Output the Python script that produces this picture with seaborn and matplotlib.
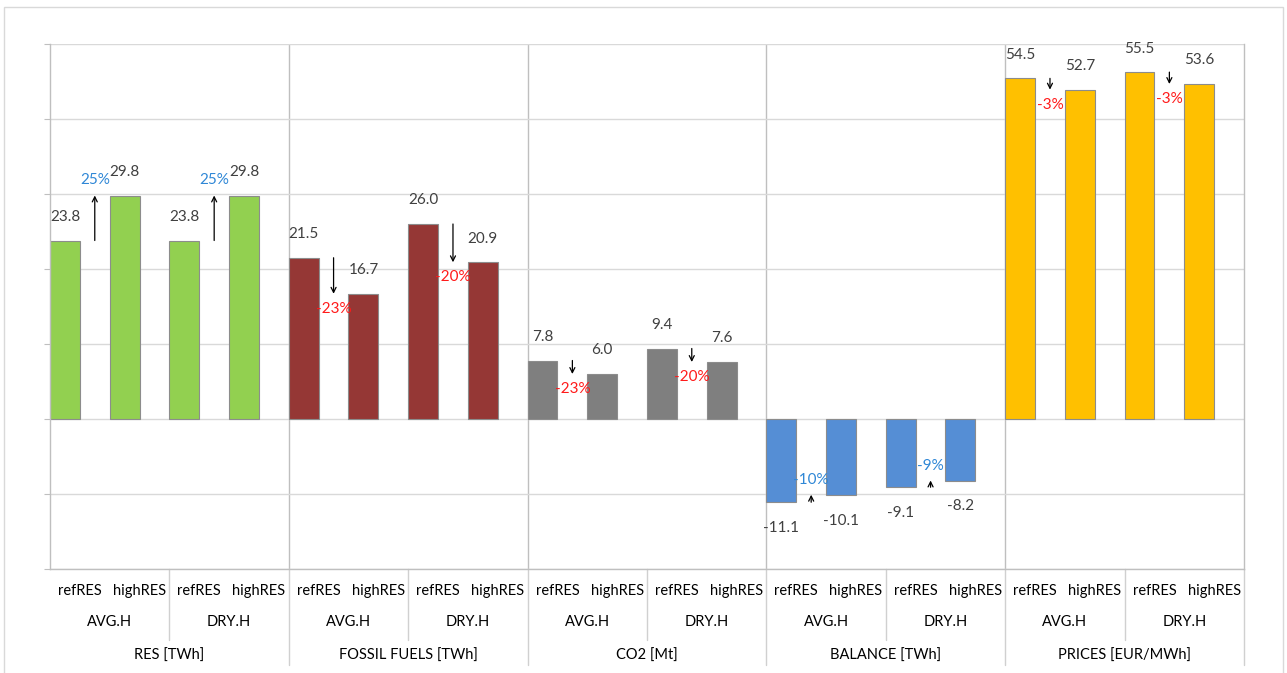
import numpy as np
import pandas as pd
import matplotlib
matplotlib.use('Agg')
import matplotlib.pyplot as plt
from matplotlib.patches import Rectangle
import seaborn as sns

# --- data ---
groups = ["RES [TWh]", "FOSSIL FUELS [TWh]", "CO2 [Mt]", "BALANCE [TWh]", "PRICES [EUR/MWh]"]
hydro = ["AVG.H", "DRY.H"]
scenarios = ["refRES", "highRES"]

res = [23.8, 29.8, 23.8, 29.8]
fossil = [21.5, 16.7, 26.0, 20.9]
co2 = [7.8, 6.0, 9.4, 7.6]
balance = [-11.1, -10.1, -9.1, -8.2]
prices = [54.5, 52.7, 55.5, 53.6]

changes = ["25%", "25%", "-23%", "-20%", "-23%", "-20%", "-10%", "-9%", "-3%", "-3%"]

colors = {
    "RES [TWh]": "#92D050",
    "FOSSIL FUELS [TWh]": "#953735",
    "CO2 [Mt]": "#7F7F7F",
    "BALANCE [TWh]": "#558ED5",
    "PRICES [EUR/MWh]": "#FFC000",
}
change_colors = ["#2F87D6", "#2F87D6", "#FF1A1A", "#FF1A1A", "#FF1A1A",
                 "#FF1A1A", "#2F87D6", "#2F87D6", "#FF1A1A", "#FF1A1A"]

series = [res, fossil, co2, balance, prices]
rows = []
for g, vals in zip(groups, series):
    for k, v in enumerate(vals):
        rows.append({"metric": g, "hydro": hydro[k // 2], "scen": scenarios[k % 2], "value": v})
df = pd.DataFrame(rows)
df["pos"] = np.arange(len(df))

sns.set_style("white")
plt.rcParams["font.family"] = ["Lato", "DejaVu Sans"]
TXT = "#404040"
FS = 11

W, H = 1287, 673
fig, ax = plt.subplots(figsize=(W / 100, H / 100), dpi=100)
fig.subplots_adjust(left=50 / W, right=1244 / W, top=1 - 44 / H, bottom=1 - 569 / H)

main = df[df["metric"] != "PRICES [EUR/MWh]"]
price = df[df["metric"] == "PRICES [EUR/MWh]"]

sns.barplot(data=main, x="pos", y="value", hue="metric", palette=colors,
            native_scale=True, width=0.5, dodge=False, errorbar=None, saturation=1,
            edgecolor="#8C8C8C", linewidth=0.8, legend=False, ax=ax)
ax2 = ax.twinx()
sns.barplot(data=price, x="pos", y="value", hue="metric", palette=colors,
            native_scale=True, width=0.5, dodge=False, errorbar=None, saturation=1,
            edgecolor="#8C8C8C", linewidth=0.8, legend=False, ax=ax2)

ax.set_xlim(-0.25, len(df) - 0.25)
ax.set_ylim(-20, 50)
ax2.set_ylim(-24, 60)

ax.set_yticks(np.arange(-20, 51, 10))
ax.set_xticks([])
ax.yaxis.grid(True, color="#D9D9D9", linewidth=1)
ax.set_axisbelow(True)
ax.tick_params(axis="y", length=4, color="#BFBFBF", labelleft=False, left=True)
ax.set_xlabel("")
ax.set_ylabel("")
ax.spines["top"].set_visible(False)
for s in ["left", "bottom", "right"]:
    ax.spines[s].set_color("#BFBFBF")
    ax.spines[s].set_linewidth(1)
for s in ax2.spines.values():
    s.set_visible(False)
ax2.set_yticks([])
ax2.set_ylabel("")
ax2.set_xlabel("")

# value labels and change arrows
px = 0.72  # points per pixel
for gi, g in enumerate(groups):
    sub = df[df["metric"] == g]
    target = ax2 if g == "PRICES [EUR/MWh]" else ax
    vals = sub["value"].to_numpy()
    pos = sub["pos"].to_numpy()
    for p, v in zip(pos, vals):
        off = 23.5 * px if v >= 0 else -26 * px
        target.annotate(f"{v:.1f}", xy=(p, v), xytext=(0, off), textcoords="offset points",
                        ha="center", va="center", fontsize=FS, color=TXT)
    for j in range(2):
        ref, high = vals[2 * j], vals[2 * j + 1]
        xa = pos[2 * j] + 0.5
        target.annotate("", xy=(xa, high), xytext=(xa, ref),
                        arrowprops=dict(arrowstyle="->", color="black", lw=0.9,
                                        shrinkA=0, shrinkB=0, mutation_scale=9))
        d = 1 if high > ref else -1
        k = gi * 2 + j
        target.annotate(changes[k], xy=(xa, high), xytext=(0, d * 15 * px),
                        textcoords="offset points", ha="center", va="center",
                        fontsize=FS, color=change_colors[k])

# vertical separators of the outer categories
for gi in range(1, len(groups)):
    ax.axvline(gi * 4 - 0.25, color="#BFBFBF", linewidth=1, zorder=0.5)

# multi-level category labels below the axis
axh = 569 - 44
def yf(ypix):
    return (569 - ypix) / axh

tr = ax.get_xaxis_transform()
for p, s in zip(df["pos"], df["scen"]):
    ax.text(p + 0.25, yf(591), s, transform=tr, ha="center", va="center", fontsize=FS - 0.5, color="black")
for j in range(len(df) // 2):
    ax.text(2 * j + 0.75, yf(622), hydro[j % 2], transform=tr, ha="center", va="center",
            fontsize=FS - 0.5, color="black")
    if j % 2 == 1:
        continue
    ax.plot([2 * j + 1.75] * 2, [0, yf(640)], transform=tr, color="#D0D0D0", lw=1, clip_on=False)
for gi, g in enumerate(groups):
    ax.text(gi * 4 + 1.75, yf(656), g, transform=tr, ha="center", va="center",
            fontsize=FS - 0.5, color="black")
for gi in range(1, len(groups) + 1):
    ax.plot([gi * 4 - 0.25] * 2, [0, yf(665)], transform=tr, color="#D0D0D0", lw=1, clip_on=False)

# outer chart frame
fig.patches.append(Rectangle((4 / W, -0.1), (1283 - 4) / W, 1 - 7 / H + 0.1,
                             transform=fig.transFigure, fill=False, ec="#D9D9D9", lw=1))

fig.savefig("out.png", dpi=100)
